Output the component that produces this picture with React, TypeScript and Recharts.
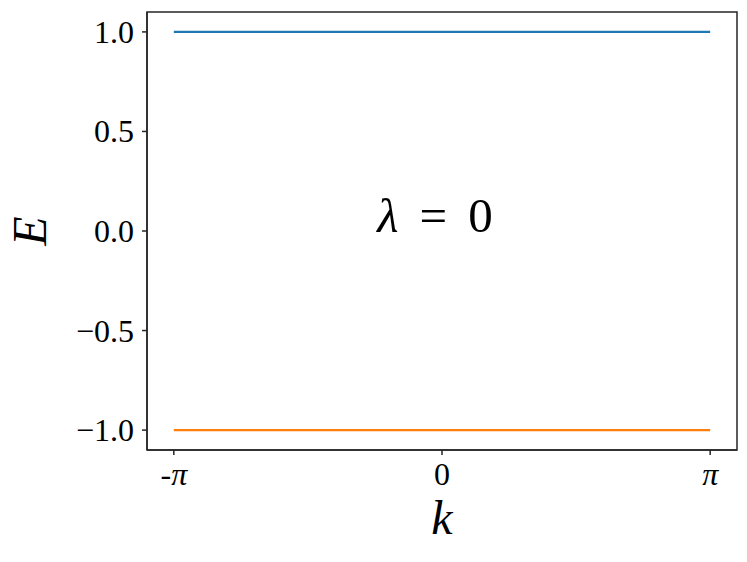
import { LineChart, Line, XAxis, YAxis, ReferenceArea, ReferenceDot, Label } from "recharts";

const PI = Math.PI;

// k samples (band is flat at λ = 0)
const kValues = [-PI, 0, PI];
const upperBand = [1, 1, 1];
const lowerBand = [-1, -1, -1];

const xTicks = [-PI, 0, PI];
const xTickPrefix = ["-", "0", ""];
const xTickSymbol = ["π", "", "π"];
const yTicks = [-1.0, -0.5, 0.0, 0.5, 1.0];

const data = kValues.map((k, i) => ({ k, upper: upperBand[i], lower: lowerBand[i] }));

const FONT = "'Liberation Serif', 'DejaVu Serif', serif";
const AXIS = "#262626";

const XTick = (props: any) => {
  const { x, y, payload } = props;
  const idx = xTicks.findIndex((t) => Math.abs(t - payload.value) < 1e-6);
  const pre = xTickPrefix[idx] ?? "";
  const sym = xTickSymbol[idx] ?? "";
  return (
    <g transform={`translate(${x},${y})`}>
      <text x={0} y={0} dy={24} textAnchor="middle" fontFamily={FONT} fontSize={32} fill="#000">
        {pre}
        {sym && <tspan fontStyle="italic">{sym}</tspan>}
      </text>
    </g>
  );
};

const YTick = ({ x, y, payload }: any) => {
  const v = payload.value as number;
  const s = (v < 0 ? "\u2212" : "") + Math.abs(v).toFixed(1);
  return (
    <text x={x} y={y} dy={11} textAnchor="end" fontFamily={FONT} fontSize={32} fill="#000">
      {s}
    </text>
  );
};

export default function App() {
  return (
    <div style={{ position: "absolute", left: 0, top: 0, width: 747, height: 562, background: "#fff" }}>
      <LineChart width={747} height={562} data={data} margin={{ top: 12, right: 10, left: 0, bottom: 0 }}>
        <XAxis
          dataKey="k"
          type="number"
          domain={[-1.1 * PI, 1.1 * PI]}
          ticks={xTicks}
          tick={<XTick />}
          interval={0}
          tickSize={5}
          tickMargin={6}
          height={112}
          stroke={AXIS}
          strokeWidth={1.5}
          allowDataOverflow
        >
          <Label
            content={({ viewBox }: any) => (
              <text
                x={viewBox.x + viewBox.width / 2}
                y={viewBox.y + 84}
                textAnchor="middle"
                fontFamily={FONT}
                fontStyle="italic"
                fontSize={48}
                fill="#000"
              >
                k
              </text>
            )}
          />
        </XAxis>
        <YAxis
          type="number"
          domain={[-1.1, 1.1]}
          ticks={yTicks}
          tick={<YTick />}
          interval={0}
          tickSize={5}
          tickMargin={8}
          width={147}
          stroke={AXIS}
          strokeWidth={1.5}
          allowDataOverflow
        >
          <Label
            content={({ viewBox }: any) => (
              <text
                x={46}
                y={viewBox.y + viewBox.height / 2}
                textAnchor="middle"
                fontFamily={FONT}
                fontStyle="italic"
                fontSize={48}
                fill="#000"
                transform={`rotate(-90, 46, ${viewBox.y + viewBox.height / 2})`}
              >
                E
              </text>
            )}
          />
        </YAxis>
        <ReferenceArea
          x1={-1.1 * PI}
          x2={1.1 * PI}
          y1={-1.1}
          y2={1.1}
          fill="none"
          stroke={AXIS}
          strokeWidth={1.5}
          fillOpacity={0}
        />
        <Line dataKey="upper" stroke="#1f77b4" strokeWidth={2.2} dot={false} isAnimationActive={false} />
        <Line dataKey="lower" stroke="#ff7f0e" strokeWidth={2.2} dot={false} isAnimationActive={false} />
        <ReferenceDot
          x={0}
          y={0}
          r={0}
          fill="none"
          stroke="none"
          label={({ viewBox }: any) => (
            <text
              x={viewBox.x - 7}
              y={viewBox.y + 1}
              textAnchor="middle"
              fontFamily={FONT}
              fontSize={49}
              fill="#000"
            >
              <tspan fontStyle="italic">λ</tspan>
              <tspan dx={21}>=</tspan>
              <tspan dx={21}>0</tspan>
            </text>
          )}
        />
      </LineChart>
    </div>
  );
}
